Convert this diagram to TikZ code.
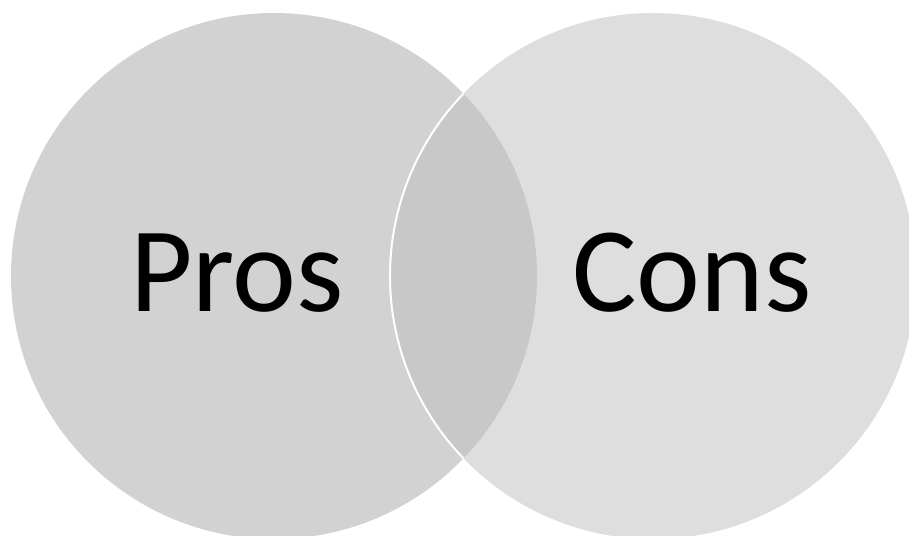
\documentclass[tikz,border=0pt]{standalone}
\usepackage{fontspec}
\setmainfont{Carlito}
\definecolor{leftc}{HTML}{D2D2D2}
\definecolor{rightc}{HTML}{DEDEDE}
\definecolor{lensc}{HTML}{C8C8C8}
\tikzset{label text/.style={font=\fontsize{121}{140}\selectfont, text=black, inner sep=0pt, anchor=base}}
\begin{document}
\begin{tikzpicture}[x=1pt,y=-1pt]
\useasboundingbox (0,0) rectangle (909,535);
\clip (0,0) rectangle (909,535);
\coordinate (cl) at (274,276);
\coordinate (cr) at (653,276);
\fill[leftc] (cl) circle[radius=263];
\fill[rightc] (cr) circle[radius=263];
\begin{scope}
\clip (cl) circle[radius=263];
\fill[lensc] (cr) circle[radius=263];
\draw[white, line width=2] (cr) circle[radius=263];
\end{scope}
\node[label text] (pros) at (237,311) {Pros};
\node[label text] (cons) at (692,311) {Cons};
\end{tikzpicture}
\end{document}
